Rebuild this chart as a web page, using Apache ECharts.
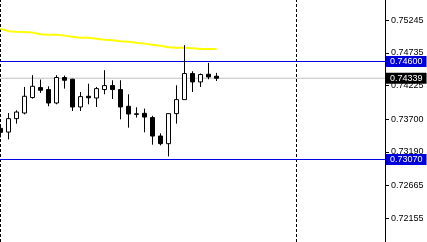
<!DOCTYPE html>
<html><head><meta charset="utf-8">
<script src="https://cdn.jsdelivr.net/npm/echarts@6/dist/echarts.min.js"></script>
<style>html,body{margin:0;padding:0;background:#fff}#c{width:427px;height:242px}</style>
</head><body><div id="c"></div>
<script>
const bars = [0,1,2,3,4,5,6,7,8,9,10,11,12,13,14,15,16,17,18,19,20,21,22,23,24,25,26,27];
const opens  = [0.73556,0.73498,0.73708,0.73796,0.74037,0.74193,0.74162,0.73952,0.74350,0.74323,0.73890,0.74057,0.74030,0.74162,0.74224,0.74162,0.73901,0.73783,0.73791,0.73724,0.73436,0.73317,0.73786,0.74005,0.74412,0.74281,0.74401,0.74370];
const closes = [0.73494,0.73708,0.73811,0.74057,0.74213,0.74151,0.73952,0.74350,0.74307,0.73890,0.74052,0.74034,0.74177,0.74224,0.74162,0.73890,0.73780,0.73775,0.73733,0.73436,0.73317,0.73786,0.74005,0.74412,0.74281,0.74397,0.74359,0.74339];
const lows   = [0.73415,0.73384,0.73630,0.73775,0.74021,0.74109,0.73901,0.73932,0.74177,0.73827,0.73827,0.73932,0.73890,0.74088,0.74015,0.73697,0.73567,0.73724,0.73494,0.73301,0.73290,0.73118,0.73630,0.74005,0.74124,0.74203,0.74323,0.74296];
const highs  = [0.73619,0.73796,0.73838,0.74203,0.74386,0.74318,0.74213,0.74386,0.74381,0.74330,0.74124,0.74253,0.74203,0.74464,0.74307,0.74307,0.74088,0.73885,0.73865,0.73752,0.73478,0.73786,0.74229,0.74855,0.74448,0.74412,0.74578,0.74422];
const maValues = [0.75110,0.75074,0.75066,0.75059,0.75051,0.75027,0.75019,0.75016,0.75004,0.74988,0.74972,0.74969,0.74957,0.74941,0.74933,0.74918,0.74907,0.74894,0.74879,0.74863,0.74847,0.74824,0.74813,0.74813,0.74805,0.74797,0.74797,0.74797];
const yTicks = [0.75245,0.74735,0.74225,0.73700,0.73190,0.72665,0.72155];
const levelHigh = 0.74600;
const levelLow = 0.73070;
const lastPrice = 0.74339;
const separators = [0, 37];

// axis extents (layout, not data)
const X_MIN = -0.0625, X_MAX = 48.0625;
const Y_MIN = 0.717819, Y_MAX = 0.755602;

const candleData = bars.map((b,i)=>[b, opens[i], closes[i], lows[i], highs[i]]);
const maData = bars.map((b,i)=>[b, maValues[i]]);
const FONT = 'Liberation Sans';
const BLUE = '#0000e0';
const BOX_BLUE = '#0000dd';

function hLine(value, color, boxColor, z){
  return {type:'line', data:[[X_MIN, value],[X_MAX, value]], z:z, showSymbol:false, silent:true, clip:false,
    color:color,
    lineStyle:{color:color, width:1, opacity:1},
    endLabel:{show:true, distance:1, formatter:()=>value.toFixed(5), color:'#fff', backgroundColor:boxColor,
      padding:[1,4,0,4], fontFamily:FONT, fontSize:9, lineHeight:10}
  };
}
function vLine(x){
  return {type:'line', data:[[x, Y_MIN],[x, Y_MAX]], z:1, showSymbol:false, silent:true,
    color:'#000', lineStyle:{color:'#000', width:1, type:[3,2]}};
}

const chart = echarts.init(document.getElementById('c'), null, {renderer:'canvas'});
chart.setOption({
  animation:false,
  backgroundColor:'#fff',
  grid:{left:0, right:42, top:0, bottom:0, containLabel:false},
  xAxis:{type:'value', min:X_MIN, max:X_MAX, show:false},
  yAxis:{type:'value', position:'right', min:Y_MIN, max:Y_MAX, scale:true,
    axisLine:{show:true, onZero:false, lineStyle:{color:'#000', width:1}},
    axisTick:{show:true, length:4, inside:false, lineStyle:{color:'#000'}, customValues:yTicks},
    axisLabel:{show:true, customValues:yTicks, margin:6, color:'#000', fontFamily:FONT, fontSize:9,
      formatter:v=>v.toFixed(5)},
    splitLine:{show:false}
  },
  series:[
    vLine(separators[0]),
    vLine(separators[1]),
    {type:'line', data:maData, z:1, showSymbol:false, silent:true, color:'#ffff00',
      lineStyle:{color:'#ffff00', width:2}},
    hLine(lastPrice, '#c0c0c0', '#000', 2),
    hLine(levelHigh, BLUE, BOX_BLUE, 2),
    hLine(levelLow, BLUE, BOX_BLUE, 2),
    {type:'candlestick', data:candleData, z:3, barWidth:4, silent:true,
      encode:{x:0, y:[1,2,3,4]},
      itemStyle:{color:'#fff', color0:'#000', borderColor:'#000', borderColor0:'#000', borderWidth:1}
    }
  ]
});
</script></body></html>
